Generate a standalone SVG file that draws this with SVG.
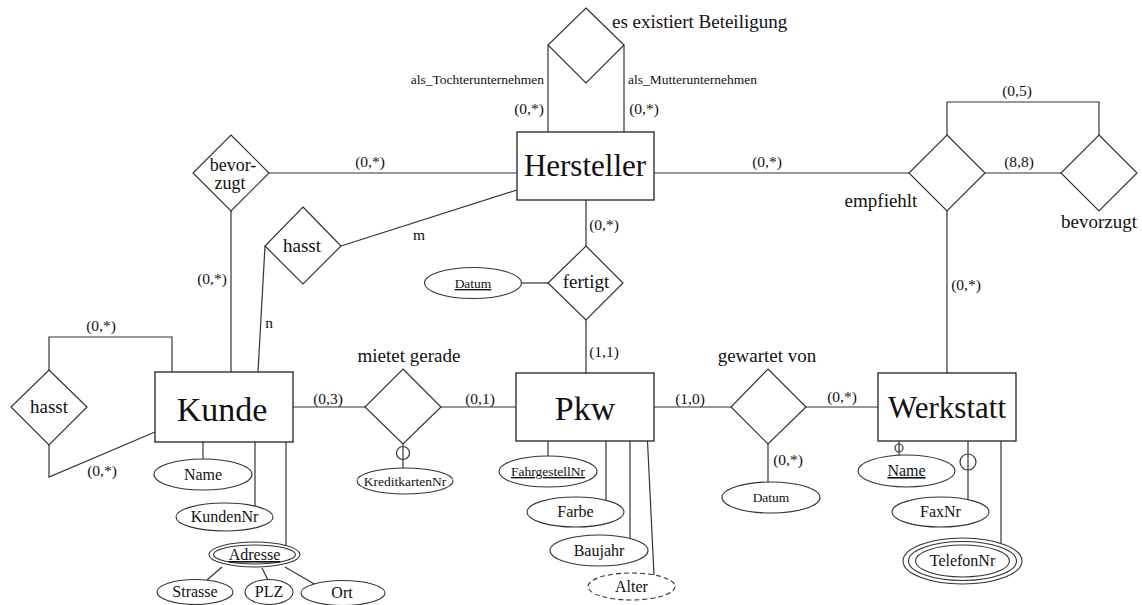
<svg xmlns="http://www.w3.org/2000/svg" width="1142" height="605" viewBox="0 0 1142 605">
<style>
text{font-family:"Liberation Serif","Times New Roman",serif;fill:#111}
.ent{fill:#fff;stroke:#222;stroke-width:1.3}
.rel{fill:#fff;stroke:#333;stroke-width:1.2}
.att{fill:#fff;stroke:#333;stroke-width:1.1}
.ln{fill:none;stroke:#333;stroke-width:1.2}
.big{font-size:34px;text-anchor:middle}
.mid{font-size:19px;text-anchor:middle}
.card{font-size:15.5px;text-anchor:middle}
.at{font-size:16px;text-anchor:middle}
.sm{font-size:13.5px;text-anchor:middle}
.u{text-decoration:underline}
</style>
<rect width="1142" height="605" fill="#fff"/>
<g id="connectors">
<polyline class="ln" points="548,45 548,132"/>
<polyline class="ln" points="624,45 624,132"/>
<line class="ln" x1="268" y1="173" x2="517" y2="173"/>
<line class="ln" x1="231" y1="211" x2="231" y2="372"/>
<line class="ln" x1="341" y1="246" x2="517" y2="190"/>
<line class="ln" x1="265" y1="246" x2="258" y2="372"/>
<line class="ln" x1="586" y1="200" x2="586" y2="246"/>
<line class="ln" x1="586" y1="320" x2="586" y2="373"/>
<line class="ln" x1="521" y1="283" x2="548" y2="283"/>
<line class="ln" x1="654" y1="173" x2="909" y2="173"/>
<line class="ln" x1="985" y1="173" x2="1061" y2="173"/>
<polyline class="ln" points="947,135 947,102 1099,102 1099,135"/>
<line class="ln" x1="947" y1="211" x2="947" y2="373"/>
<polyline class="ln" points="49,370 49,337 172,337 172,372"/>
<polyline class="ln" points="49,445 49,477 155,432"/>
<line class="ln" x1="293" y1="407" x2="365" y2="407"/>
<line class="ln" x1="441" y1="407" x2="516" y2="407"/>
<line class="ln" x1="403" y1="444" x2="403" y2="468"/>
<line class="ln" x1="654" y1="407" x2="731" y2="407"/>
<line class="ln" x1="806" y1="407" x2="878" y2="407"/>
<line class="ln" x1="768" y1="444" x2="768" y2="482"/>
<line class="ln" x1="203" y1="442" x2="203" y2="459"/>
<line class="ln" x1="255" y1="442" x2="255" y2="506"/>
<line class="ln" x1="286" y1="442" x2="286" y2="545"/>
<line class="ln" x1="222" y1="567" x2="207" y2="580"/>
<line class="ln" x1="262" y1="568" x2="268" y2="580"/>
<line class="ln" x1="285" y1="567" x2="316" y2="585"/>
<line class="ln" x1="548" y1="441" x2="548" y2="456"/>
<line class="ln" x1="606" y1="441" x2="606" y2="500"/>
<line class="ln" x1="630" y1="441" x2="630" y2="538"/>
<line class="ln" x1="647.5" y1="441" x2="654" y2="575"/>
<line class="ln" x1="899" y1="441" x2="899" y2="455"/>
<line class="ln" x1="968" y1="441" x2="968" y2="500"/>
<line class="ln" x1="1001" y1="441" x2="1001" y2="543"/>
<circle class="ln" cx="403" cy="453" r="6.5"/>
<circle class="ln" cx="899" cy="448" r="4"/>
<circle class="ln" cx="968" cy="462" r="8"/>
</g>
<g id="labels">
<text class="sm" x="544" y="84" style="text-anchor:end">als_Tochterunternehmen</text>
<text class="sm" x="628" y="84" style="text-anchor:start">als_Mutterunternehmen</text>
<text class="card" x="529" y="114">(0,*)</text>
<text class="card" x="644" y="114">(0,*)</text>
<text class="card" x="370" y="167">(0,*)</text>
<text class="card" x="212" y="284">(0,*)</text>
<text class="card" x="419" y="240">m</text>
<text class="card" x="269" y="328">n</text>
<text class="card" x="604" y="230">(0,*)</text>
<text class="card" x="604" y="357">(1,1)</text>
<text class="card" x="767" y="167">(0,*)</text>
<text class="card" x="1019" y="167">(8,8)</text>
<text class="card" x="1017" y="96">(0,5)</text>
<text class="card" x="966" y="290">(0,*)</text>
<text class="card" x="101" y="331">(0,*)</text>
<text class="card" x="102" y="476">(0,*)</text>
<text class="card" x="328" y="404">(0,3)</text>
<text class="card" x="480" y="404">(0,1)</text>
<text class="card" x="690" y="404">(1,0)</text>
<text class="card" x="842" y="402">(0,*)</text>
<text class="card" x="788" y="465">(0,*)</text>
</g>
<g id="es-existiert-beteiligung">
<polygon class="rel" points="586,8 624,45 586,83 548,45"/>
<text class="mid" x="612" y="28" style="text-anchor:start">es existiert Beteiligung</text>
</g>
<g id="hersteller">
<rect class="ent" x="517" y="132" width="137" height="68"/>
<text class="big" x="585" y="176" style="font-size:31px">Hersteller</text>
</g>
<g id="bevorzugt-links">
<polygon class="rel" points="231,135 269,173 231,211 193,173"/>
<text class="mid" x="233" y="171" style="font-size:18px">bevor-</text>
<text class="mid" x="230" y="189" style="font-size:18px">zugt</text>
</g>
<g id="hasst-oben">
<polygon class="rel" points="303,207 341,246 303,284 265,246"/>
<text class="mid" x="302" y="252">hasst</text>
</g>
<g id="fertigt">
<polygon class="rel" points="586,246 623,283 586,320 548,283"/>
<text class="mid" x="586" y="288">fertigt</text>
</g>
<g id="datum-fertigt">
<ellipse class="att" cx="473" cy="283" rx="48.5" ry="15.5"/>
<text class="sm u" x="473" y="288">Datum</text>
</g>
<g id="empfiehlt">
<polygon class="rel" points="947,135 985,173 947,211 909,173"/>
<text class="mid" x="881" y="207">empfiehlt</text>
</g>
<g id="bevorzugt-rechts">
<polygon class="rel" points="1099,135 1137,173 1099,211 1061,173"/>
<text class="mid" x="1099" y="228">bevorzugt</text>
</g>
<g id="hasst-links">
<polygon class="rel" points="49,370 87,407 49,445 11,407"/>
<text class="mid" x="49" y="413">hasst</text>
</g>
<g id="kunde">
<rect class="ent" x="155" y="372" width="138" height="70"/>
<text class="big" x="222" y="421">Kunde</text>
</g>
<g id="mietet-gerade">
<polygon class="rel" points="403,369 441,407 403,444 365,407"/>
<text class="mid" x="409" y="362">mietet gerade</text>
</g>
<g id="kreditkartennr">
<ellipse class="att" cx="405" cy="481" rx="48" ry="13"/>
<text class="sm" x="405" y="486">KreditkartenNr</text>
</g>
<g id="pkw">
<rect class="ent" x="516" y="373" width="138" height="68"/>
<text class="big" x="585" y="420">Pkw</text>
</g>
<g id="gewartet-von">
<polygon class="rel" points="768,369 806,407 768,444 731,407"/>
<text class="mid" x="767" y="362">gewartet von</text>
</g>
<g id="datum-gewartet">
<ellipse class="att" cx="771" cy="497.5" rx="49" ry="15.5"/>
<text class="sm" x="771" y="502">Datum</text>
</g>
<g id="werkstatt">
<rect class="ent" x="878" y="373" width="138" height="68"/>
<text class="big" x="947" y="418" style="font-size:31px">Werkstatt</text>
</g>
<g id="name-kunde">
<ellipse class="att" cx="203" cy="474.5" rx="49" ry="15.5"/>
<text class="at" x="203" y="480">Name</text>
</g>
<g id="kundennr">
<ellipse class="att" cx="224.5" cy="517" rx="48.5" ry="14"/>
<text class="at" x="224.5" y="522">KundenNr</text>
</g>
<g id="adresse">
<ellipse class="att" cx="254.5" cy="554.5" rx="45.5" ry="12.5"/>
<ellipse class="att" cx="254.5" cy="554.5" rx="41" ry="9.5"/>
<text class="at u" x="254.5" y="560">Adresse</text>
</g>
<g id="strasse">
<ellipse class="att" cx="195" cy="592" rx="38" ry="12.5"/>
<text class="at" x="195" y="597">Strasse</text>
</g>
<g id="plz">
<ellipse class="att" cx="269" cy="592" rx="24" ry="12.5"/>
<text class="at" x="269" y="597">PLZ</text>
</g>
<g id="ort">
<ellipse class="att" cx="343" cy="593" rx="42" ry="12.5"/>
<text class="at" x="342" y="598">Ort</text>
</g>
<g id="fahrgestellnr">
<ellipse class="att" cx="548" cy="471.5" rx="49" ry="15.5"/>
<text class="sm u" x="548" y="476">FahrgestellNr</text>
</g>
<g id="farbe">
<ellipse class="att" cx="575.5" cy="512" rx="48.5" ry="15"/>
<text class="at" x="575.5" y="517">Farbe</text>
</g>
<g id="baujahr">
<ellipse class="att" cx="599" cy="550.5" rx="49" ry="15.5"/>
<text class="at" x="599" y="556">Baujahr</text>
</g>
<g id="alter">
<ellipse class="att" cx="631.5" cy="586.5" rx="43.5" ry="13.5" stroke-dasharray="5,3"/>
<text class="at" x="631.5" y="592">Alter</text>
</g>
<g id="name-werkstatt">
<ellipse class="att" cx="906.5" cy="471" rx="48.5" ry="16"/>
<text class="at u" x="906.5" y="476">Name</text>
</g>
<g id="faxnr">
<ellipse class="att" cx="940.5" cy="512" rx="48.5" ry="15"/>
<text class="at" x="940.5" y="517">FaxNr</text>
</g>
<g id="telefonnr">
<ellipse class="att" cx="962.5" cy="561" rx="59.5" ry="23"/>
<ellipse class="att" cx="962.5" cy="561" rx="54" ry="19.5"/>
<ellipse class="att" cx="962.5" cy="561" rx="47" ry="16"/>
<text class="at" x="962.5" y="566">TelefonNr</text>
</g>
</svg>
